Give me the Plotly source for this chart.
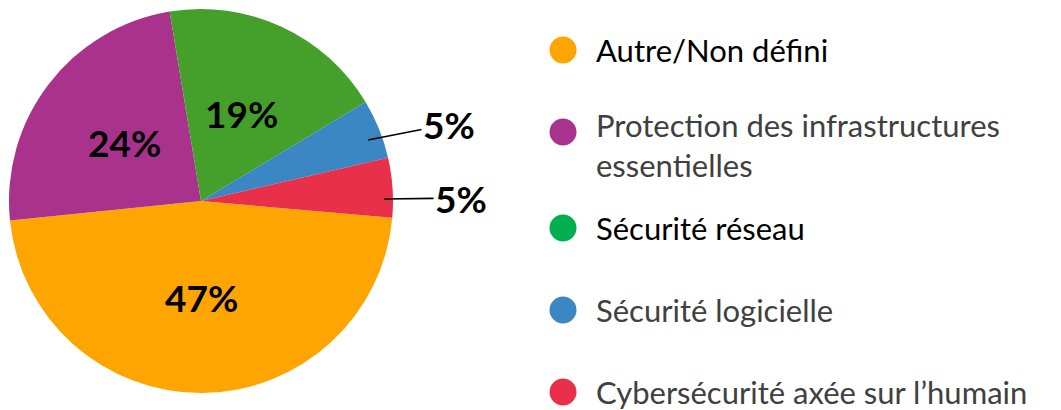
import math
import plotly.graph_objects as go

# ---- data ----
categories = ["Autre/Non défini",
              "Protection des infrastructures essentielles",
              "Sécurité réseau",
              "Sécurité logicielle",
              "Cybersécurité axée sur l’humain"]
legend_labels = ["Autre/Non défini",
                 "Protection des infrastructures<br>essentielles",
                 "Sécurité réseau",
                 "Sécurité logicielle",
                 "Cybersécurité axée sur l’humain"]
values = [47, 24, 19, 5, 5]

# ---- styles ----
pie_colors = ["#FFA502", "#A8328C", "#44A02B", "#3A87C4", "#E8304A"]
legend_colors = ["#FFA502", "#A8328C", "#00B050", "#3A87C4", "#E8304A"]
legend_text_colors = ["#000000", "#404040", "#000000", "#404040", "#404040"]

OFF = 8                      # page body margin of the browser
W, H = 1061 - OFF, 410 - OFF
FONT = "Lato"
LBL_SIZE = 37
LEG_SIZE = 31


def px(x, y):
    """screen pixel -> figure pixel"""
    return x - OFF, y - OFF


fig = go.Figure()

# pie: centre (201,201) screen px, radius 192 px
cx, cy = px(201, 201)
r = 192
ROT = 95  # degrees clockwise from 12 o'clock where first slice starts
fig.add_trace(go.Pie(
    labels=categories, values=values, sort=False, direction="clockwise",
    rotation=ROT,
    marker=dict(colors=pie_colors, line=dict(width=0)),
    textinfo="none",
    domain=dict(x=[(cx - r) / W, (cx + r) / W], y=[1 - (cy + r) / H, 1 - (cy - r) / H]),
    showlegend=False, hoverinfo="label+percent",
))

# hidden overlay axis in figure pixels
fig.add_trace(go.Scatter(x=[None], y=[None], xaxis="x", yaxis="y",
                         showlegend=False, hoverinfo="skip"))

annotations = []

# inside percentage labels at mid-angle of each big slice
total = sum(values)
cum = 0
mids = []
for v in values:
    start = ROT + 360 * cum / total
    mid = start + 360 * v / total / 2
    mids.append(mid)
    cum += v
for i in range(3):
    a = math.radians(mids[i])
    lx = cx + 0.5 * r * math.sin(a)
    ly = cy - 0.5 * r * math.cos(a)
    annotations.append(dict(
        x=lx, y=ly, xref="x", yref="y", text=f"{values[i]}%", showarrow=False,
        font=dict(family=FONT, size=LBL_SIZE, color="black", weight="bold"),
    ))

# outside labels for the two small slices, with leader lines
leader = {3: dict(tip=px(368, 140), txt=px(449, 124)),
          4: dict(tip=px(384, 199), txt=px(461, 198))}
for i, d in leader.items():
    annotations.append(dict(
        x=d["tip"][0], y=d["tip"][1], xref="x", yref="y",
        ax=d["txt"][0], ay=d["txt"][1], axref="x", ayref="y",
        text=f"{values[i]}%", showarrow=True, arrowhead=0, arrowwidth=1.6,
        arrowcolor="black",
        font=dict(family=FONT, size=LBL_SIZE, color="black", weight="bold"),
    ))

# custom legend
legend_y = [50, 132, 228, 310, 392]
mk_x, _ = px(563, 0)
tx_x, _ = px(595, 0)
fig.add_trace(go.Scatter(
    x=[mk_x] * len(categories), y=[px(0, yy)[1] for yy in legend_y], mode="markers",
    marker=dict(size=27, color=legend_colors, line=dict(width=0)),
    xaxis="x", yaxis="y", showlegend=False, hoverinfo="skip",
))
for lbl, yy, col in zip(legend_labels, legend_y, legend_text_colors):
    y_text = yy + 13 if "<br>" in lbl else yy
    annotations.append(dict(
        x=tx_x, y=px(0, y_text)[1], xref="x", yref="y",
        text=lbl, showarrow=False, xanchor="left", yanchor="middle",
        align="left", borderpad=0,
        font=dict(family=FONT, size=LEG_SIZE, color=col),
    ))

fig.update_layout(
    width=W, height=H,
    margin=dict(l=0, r=0, t=0, b=0),
    paper_bgcolor="white", plot_bgcolor="rgba(0,0,0,0)",
    xaxis=dict(domain=[0, 1], range=[0, W], visible=False, fixedrange=True),
    yaxis=dict(domain=[0, 1], range=[H, 0], visible=False, fixedrange=True),
    annotations=annotations,
    showlegend=False,
)

fig.write_html("out.html")
